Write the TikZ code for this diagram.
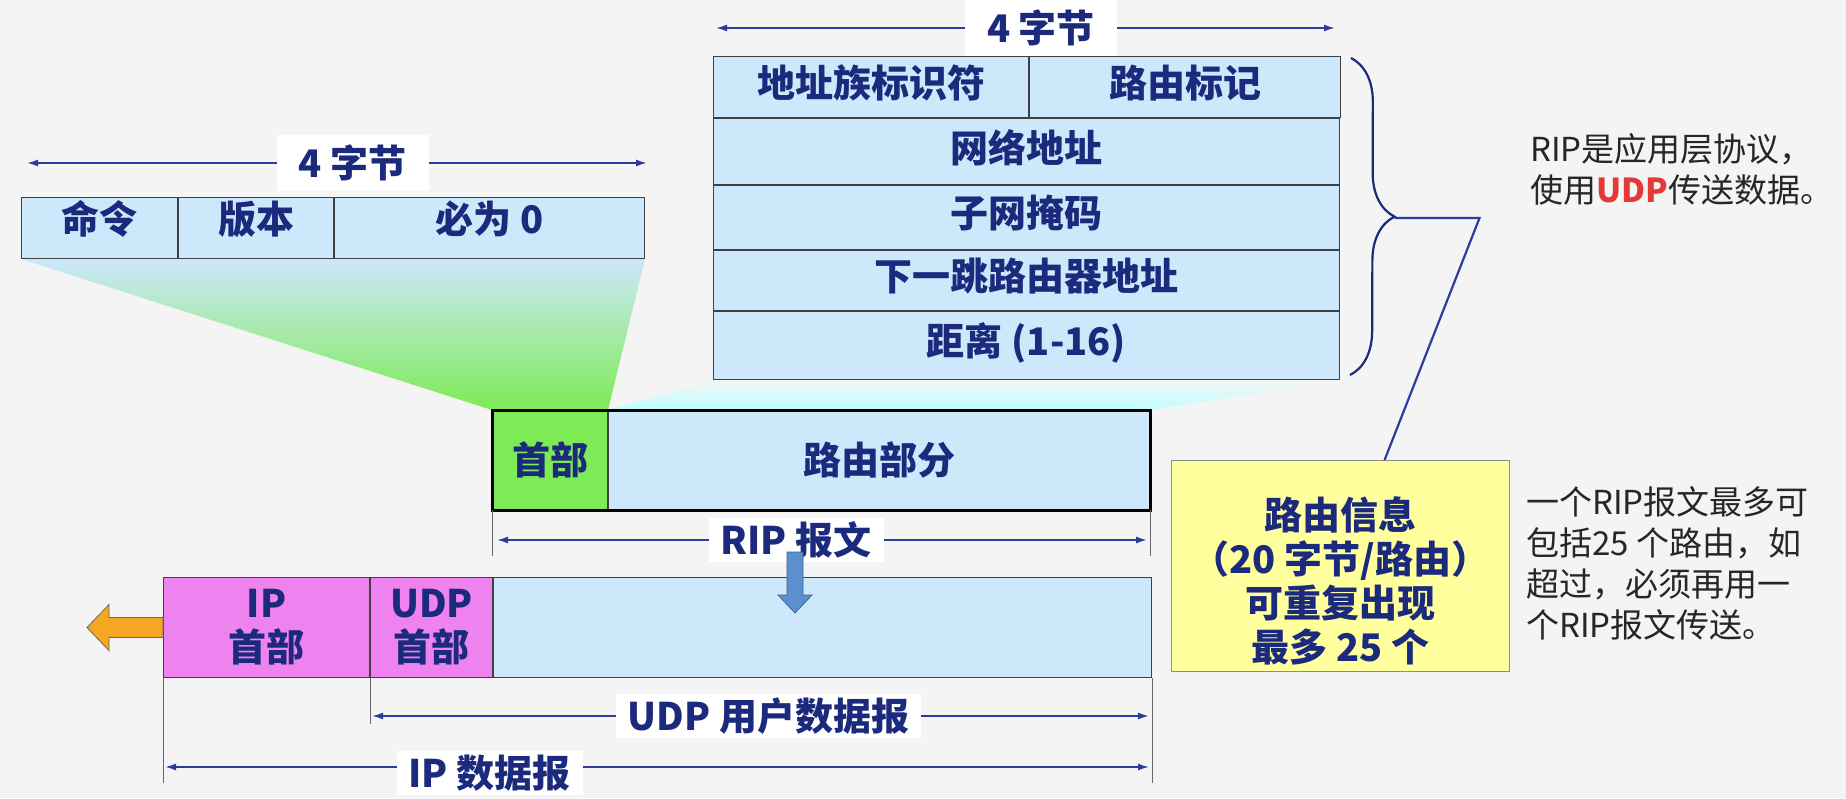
\documentclass[tikz,border=0pt]{standalone}
\usepackage{fontspec}
\setmainfont{Noto Sans CJK SC}
\usetikzlibrary{arrows.meta,calc,positioning,decorations.pathreplacing,backgrounds}
\definecolor{ink}{HTML}{1B2A7C}
\definecolor{fieldblue}{HTML}{CCE8FA}
\definecolor{hdrgreen}{HTML}{7DEB55}
\definecolor{ippink}{HTML}{EE82EE}
\definecolor{notebox}{HTML}{FFFF9E}
\definecolor{dimblue}{HTML}{2C3C9C}
\definecolor{dropblue}{HTML}{5B8FD0}
\definecolor{outorange}{HTML}{F5A623}
\definecolor{udpred}{HTML}{E53935}
\definecolor{slidebg}{HTML}{F4F4F4}
\newcommand\fieldfont{\bfseries\fontsize{38}{44}\selectfont}
\newcommand\notefont{\fontsize{33}{41}\selectfont}
\tikzset{>=Latex,
  field/.style={draw=black!75,line width=1pt,fill=fieldblue,text=ink,
    font=\fieldfont,inner sep=0pt,anchor=north west,align=center},
  raised/.style={text depth=12pt},
  dim/.style={{Latex[length=11pt,width=7pt]}-{Latex[length=11pt,width=7pt]},
    draw=dimblue,line width=1.6pt},
  dimlabel/.style={fill=white,text=ink,font=\fieldfont,inner xsep=12pt,inner ysep=4pt},
  toplabel/.style={dimlabel,minimum width=152pt,minimum height=56pt},
  extline/.style={draw=black!60,line width=.8pt},
  link/.style={draw=dimblue,line width=2.2pt},
  note/.style={text=black!85,font=\notefont,align=left,anchor=west,inner sep=0pt}}
\begin{document}
\begin{tikzpicture}[x=1pt,y=-1pt]
\useasboundingbox(0,0)rectangle(1846,798);
% RIP header fields
\node[field,text depth=22pt,minimum width=156pt,minimum height=61pt](cmd)at(21,197){命令};
\node[field,text depth=22pt,minimum width=155pt,minimum height=61pt,right=0pt of cmd](ver){版本};
\node[field,text depth=22pt,minimum width=310pt,minimum height=61pt,right=0pt of ver](zero){必为 0};
\draw[dim]($(cmd.north west)+(6,-34)$)--($(zero.north east)+(2,-34)$)
  node[toplabel,pos=.525]{4 字节};
% one route entry
\node[field,raised,minimum width=315pt,minimum height=61pt](afi)at(713,56){地址族标识符};
\node[field,raised,minimum width=311pt,minimum height=61pt,right=0pt of afi](tag){路由标记};
\node[field,raised,minimum width=626pt,minimum height=66pt](net)at(afi.south west){网络地址};
\node[field,raised,minimum width=626pt,minimum height=64pt](mask)at(net.south west){子网掩码};
\node[field,raised,minimum width=626pt,minimum height=60pt](hop)at(mask.south west){下一跳路由器地址};
\node[field,raised,minimum width=626pt,minimum height=68pt](dist)at(hop.south west){距离 (1-16)};
\draw[dim]($(afi.north west)+(3,-28)$)--($(tag.north east)+(-6,-28)$)
  node[toplabel,pos=.525]{4 字节};
\draw[draw=ink,line width=2.2pt,decorate,decoration={brace,amplitude=44pt}]
  ($(tag.north east)+(10,2)$)--($(dist.south east)+(10,-5)$);
\coordinate(tip)at($(tag.north east)!.5!(dist.south east)+(54,0)$);
% RIP message
\node[field,fill=hdrgreen,minimum width=115pt,minimum height=99pt](riphdr)at(492,410){首部};
\node[field,minimum width=541pt,minimum height=99pt,right=0pt of riphdr](riproute){路由部分};
\draw[line width=3pt](riphdr.north west)rectangle(riproute.south east);
\draw[extline](riphdr.south west)--++(0,46);
\draw[extline](riproute.south east)--++(0,46);
\draw[dim]($(riphdr.south west)+(5,30)$)--($(riproute.south east)+(-3,30)$)
  node[dimlabel,pos=.46]{RIP 报文};
% IP datagram
\node[field,fill=ippink,minimum width=206pt,minimum height=100pt](iphdr)at(163,577){IP\\首部};
\node[field,fill=ippink,minimum width=122pt,minimum height=100pt,right=0pt of iphdr](udphdr){UDP\\首部};
\node[field,minimum width=658pt,minimum height=100pt,right=0pt of udphdr](udpdata){};
\draw[extline](iphdr.south west)--++(0,105);
\draw[extline](udpdata.south east)--++(0,105);
\draw[extline](udphdr.south west)--++(0,46);
\draw[dim]($(udphdr.south west)+(2,38)$)--($(udpdata.south east)+(-3,38)$)
  node[dimlabel,pos=.51]{UDP 用户数据报};
\draw[dim]($(iphdr.south west)+(2,89)$)--($(udpdata.south east)+(-3,89)$)
  node[dimlabel,pos=.33,yshift=-6pt]{IP 数据报};
\coordinate(drop)at(795,552);
\draw[draw=dropblue!70!black,fill=dropblue,line width=.8pt]($(drop)+(-8,0)$)--++(16,0)--++(0,43)
  --++(9,0)--++(-17,18)--++(-17,-18)--++(9,0)--cycle;
\coordinate(out)at(iphdr.west);
\draw[draw=black!60,fill=outorange,line width=.8pt](out)++(0,-10)--++(-54,0)--++(0,-13)
  --++(-22,23)--++(22,23)--++(0,-13)--++(54,0)--cycle;
% routing info note
\node[draw=black!45,line width=1pt,fill=notebox,text=ink,font=\fieldfont,align=center,
  minimum width=338pt,minimum height=211pt,anchor=north west](info)at(1171,460)
  {\rule{0pt}{62pt}路由信息\\（20 字节/路由）\\可重复出现\\最多 25 个};
\draw[link](tip)--++(85,0)--($(info.north west)!.63!(info.north east)$);
\node[note](why)at(1530,169){RIP是应用层协议，\\使用{\bfseries\color{udpred}UDP}传送数据。};
\node[note](limit)at(1526,563){一个RIP报文最多可\\包括25 个路由，如\\超过，必须再用一\\个RIP报文传送。};
\begin{scope}[on background layer]
\fill[slidebg](0,0)rectangle(1846,798);
\shade[top color=fieldblue,bottom color=hdrgreen](cmd.south west)--(zero.south east)
  --(riphdr.north east)--(riphdr.north west)--cycle;
\shade[top color=slidebg,bottom color=cyan!25](dist.south west)--(dist.south east)
  --(riproute.north east)--(riphdr.north east)--cycle;
\end{scope}
\end{tikzpicture}
\end{document}
